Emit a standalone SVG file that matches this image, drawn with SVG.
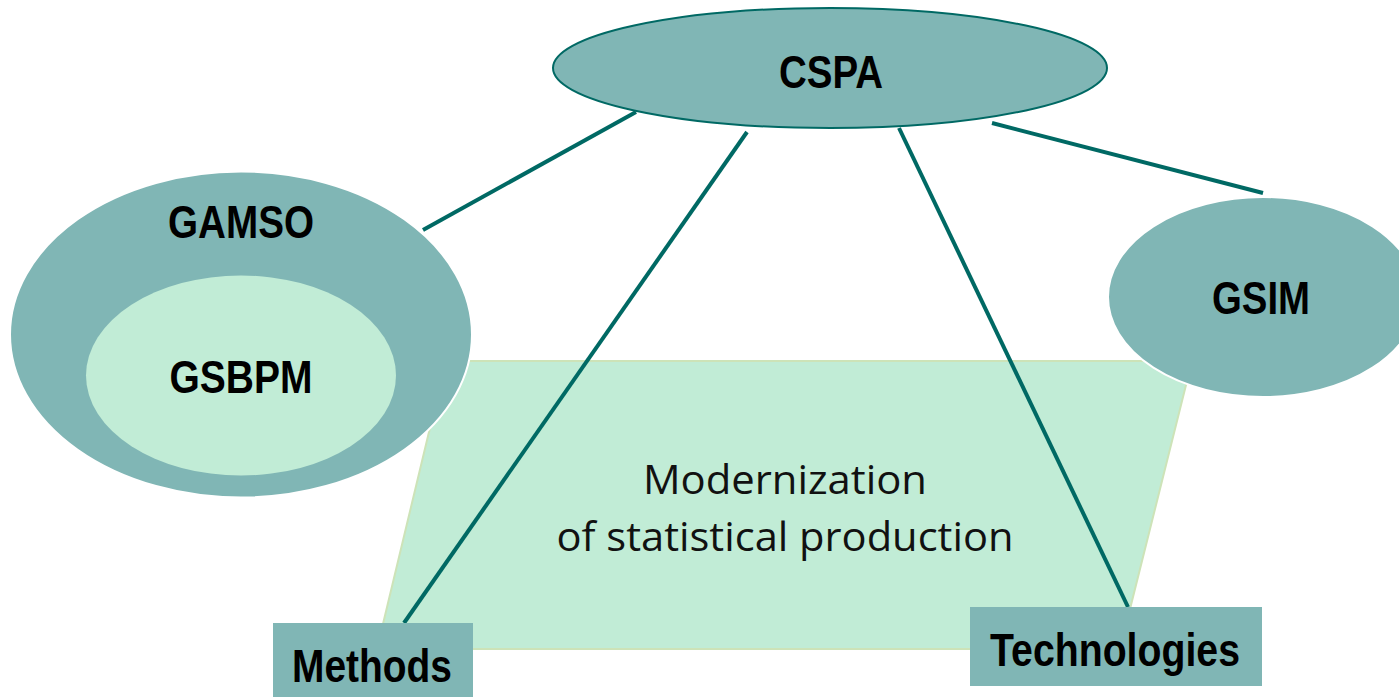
<svg xmlns="http://www.w3.org/2000/svg" width="1399" height="697" viewBox="0 0 1399 697">
<style>
.teal{fill:#80B6B5}
.lbl{font-family:"Liberation Sans",Arial,sans-serif;font-weight:bold;fill:#000;text-anchor:middle}
.body{font-family:"Open Sans","Noto Sans",sans-serif;fill:#111;text-anchor:middle}
.conn{stroke:#006964;stroke-width:4;fill:none;stroke-linecap:butt}
</style>
<rect width="1399" height="697" fill="#fff"/>
<g id="modernization">
<polygon points="446,361 1192,361 1120,649 377,649" fill="#C1ECD6" stroke="#CDE3B8" stroke-width="2"/>
<text class="body" x="785" y="494" font-size="40" textLength="284" lengthAdjust="spacingAndGlyphs">Modernization</text>
<text class="body" x="785" y="551" font-size="40" textLength="457" lengthAdjust="spacingAndGlyphs">of statistical production</text>
</g>
<g id="gamso">
<ellipse class="teal" cx="241" cy="334.5" rx="231" ry="163" stroke="#fff" stroke-width="2"/>
<text class="lbl" x="241" y="238" font-size="46" textLength="146" lengthAdjust="spacingAndGlyphs">GAMSO</text>
</g>
<g id="gsbpm">
<ellipse cx="241" cy="375.5" rx="155" ry="100" fill="#C1ECD6"/>
<text class="lbl" x="241" y="393" font-size="46" textLength="143" lengthAdjust="spacingAndGlyphs">GSBPM</text>
</g>
<g id="gsim">
<ellipse class="teal" cx="1263" cy="297" rx="155" ry="100" stroke="#fff" stroke-width="2"/>
<text class="lbl" x="1261" y="314" font-size="46" textLength="98" lengthAdjust="spacingAndGlyphs">GSIM</text>
</g>
<g id="connectors">
<line class="conn" x1="636" y1="112" x2="423" y2="230"/>
<line class="conn" x1="747" y1="132" x2="404" y2="623"/>
<line class="conn" x1="899" y1="128" x2="1128" y2="607"/>
<line class="conn" x1="992" y1="123" x2="1263" y2="193"/>
</g>
<g id="cspa">
<ellipse class="teal" cx="830" cy="68" rx="277" ry="60" stroke="#006964" stroke-width="2"/>
<text class="lbl" x="831" y="88" font-size="46" textLength="104" lengthAdjust="spacingAndGlyphs">CSPA</text>
</g>
<g id="methods">
<rect class="teal" x="273" y="623" width="200" height="74"/>
<text class="lbl" x="372" y="682" font-size="46" textLength="160" lengthAdjust="spacingAndGlyphs">Methods</text>
</g>
<g id="technologies">
<rect class="teal" x="970" y="607" width="292" height="79"/>
<text class="lbl" x="1115" y="666" font-size="46" textLength="250" lengthAdjust="spacingAndGlyphs">Technologies</text>
</g>
</svg>
